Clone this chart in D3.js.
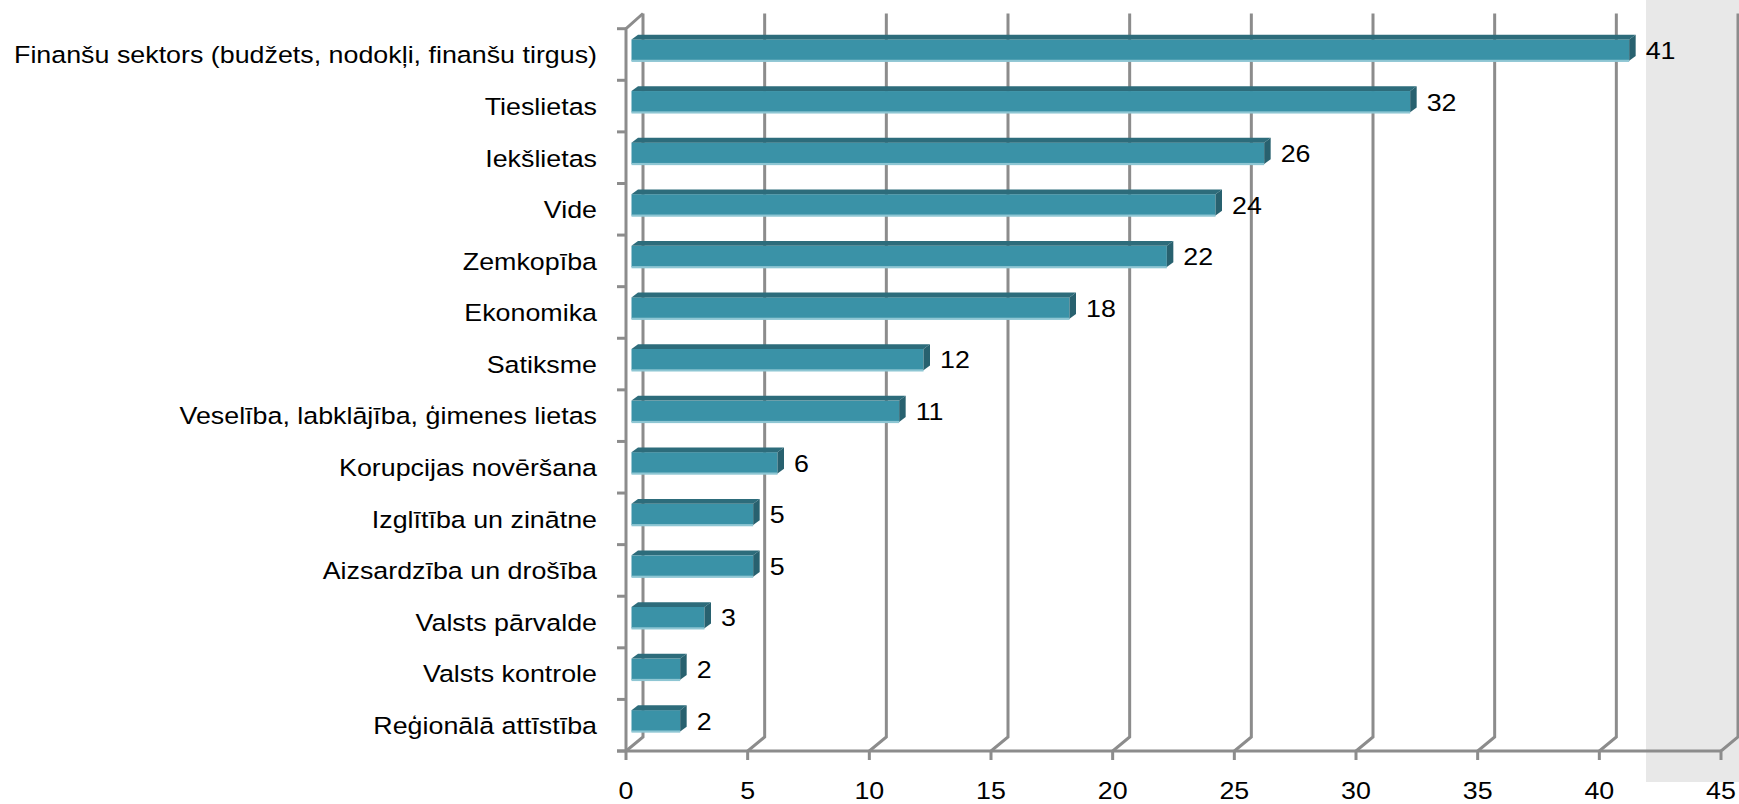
<!DOCTYPE html>
<html><head><meta charset="utf-8">
<script src="https://cdn.jsdelivr.net/npm/d3@7"></script>
<style>html,body{margin:0;padding:0;background:#fff;}svg{display:block;}text{font-family:"Liberation Sans",Arial,sans-serif;fill:#000;}</style>
</head><body>
<svg id="chart" width="1739" height="804"></svg>
<script>
const categories = ["Finanšu sektors (budžets, nodokļi, finanšu tirgus)","Tieslietas","Iekšlietas","Vide","Zemkopība","Ekonomika","Satiksme","Veselība, labklājība, ģimenes lietas","Korupcijas novēršana","Izglītība un zinātne","Aizsardzība un drošība","Valsts pārvalde","Valsts kontrole","Reģionālā attīstība"];
const values = [41,32,26,24,22,18,12,11,6,5,5,3,2,2];
const xTicks = [0,5,10,15,20,25,30,35,40,45];

const svg = d3.select("#chart");
const W = 1739, H = 804;
const x = d3.scaleLinear().domain([0,45]).range([626,1721]);
const y = d3.scaleBand().domain(categories).range([28.7,751]).padding(0);
const DX = 17, DY = -14;           // wall depth
const BFX = 5.5, BFY = -4.4;       // bar front offset
const BDX = 6.5, BDY = -4.8;       // bar depth
const barH = y.bandwidth()*0.413;
const FS = 24.5;
const SX = 1.095;

// grey panel
svg.append("rect").attr("x",1646).attr("y",0).attr("width",W-1646).attr("height",782).attr("fill","#e8e8e8");

const grid = svg.append("g").attr("stroke","#8c8c8c").attr("stroke-width",3).attr("fill","none");
const yB = 751;
xTicks.forEach(v=>{
  const xf = x(v);
  grid.append("path").attr("d",`M${xf+DX},13.5 L${xf+DX},${yB+DY} L${xf},${yB} L${xf},760`);
});
// floor front line
grid.append("line").attr("x1",617).attr("x2",x(45)).attr("y1",yB).attr("y2",yB);
// left axis
grid.append("path").attr("d",`M${x(0)+DX},13.5 L${x(0)},28.7 L${x(0)},${yB}`);
// category ticks
const bounds = categories.map(c=>y(c)).concat([751]);
bounds.forEach(b=>{
  grid.append("line").attr("x1",617).attr("x2",x(0)).attr("y1",b).attr("y2",b);
});

// bars
const bars = svg.append("g");
categories.forEach((c,i)=>{
  const v = values[i];
  const cy = y(c)+y.bandwidth()/2;
  const x0 = x(0)+BFX, x1 = x(v)+BFX;
  const yt = cy + BFY - barH/2, yb = yt + barH;
  bars.append("rect").attr("x",x0).attr("y",yt).attr("width",x1-x0).attr("height",barH).attr("fill","#3a92a7");
  bars.append("rect").attr("x",x0).attr("y",yb-1).attr("width",x1-x0).attr("height",2.2).attr("fill","#8ec6d3");
  bars.append("path").attr("d",`M${x0},${yt} L${x0+BDX},${yt+BDY} L${x1+BDX},${yt+BDY} L${x1},${yt} Z`).attr("fill","#2d6c7b");
  bars.append("path").attr("d",`M${x1},${yt} L${x1+BDX},${yt+BDY} L${x1+BDX},${yb+BDY} L${x1},${yb} Z`).attr("fill","#28616f");
  const lx = x1+BDX+10;
  bars.append("text").attr("transform",`translate(${lx},${cy+BFY}) scale(${SX},1)`).attr("dy","0.36em").attr("font-size",FS).text(v);
  svg.append("text").attr("transform",`translate(597,${cy}) scale(${SX},1)`).attr("dy","0.36em").attr("text-anchor","end").attr("font-size",FS).text(c);
});

// x tick labels
xTicks.forEach(v=>{
  svg.append("text").attr("transform",`translate(${x(v)},798.5) scale(${SX},1)`).attr("text-anchor","middle").attr("font-size",FS).text(v);
});
</script>
</body></html>
